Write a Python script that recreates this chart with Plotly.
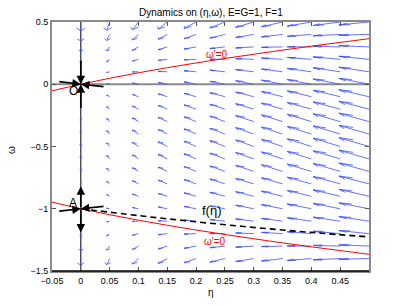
import plotly.graph_objects as go

# ---- data ----
eta_grid = [0.0, 0.05, 0.1, 0.15, 0.2, 0.25, 0.3, 0.35, 0.4, 0.45, 0.5]
omega_grid = [-1.5, -1.4, -1.3, -1.2, -1.1, -1.0, -0.9, -0.8, -0.7, -0.6, -0.5,
              -0.4, -0.3, -0.2, -0.1, 0.0, 0.1, 0.2, 0.3, 0.4, 0.5]
# horizontal rate (eta') per column
eta_rate = [0.0, -0.055, -0.11, -0.165, -0.22, -0.275, -0.33, -0.385, -0.44, -0.495, -0.55]
# vertical rate (omega') = column part + row part
omega_rate_col = [0.0, 0.05, 0.1, 0.15, 0.2, 0.25, 0.3, 0.35, 0.4, 0.45, 0.5]
omega_rate_row = [-0.75, -0.56, -0.39, -0.24, -0.11, 0.0, 0.09, 0.16, 0.21, 0.24, 0.25,
                  0.24, 0.21, 0.16, 0.09, 0.0, -0.11, -0.24, -0.39, -0.56, -0.75]

null_eta = [-0.05, 0.0, 0.05, 0.1, 0.15, 0.2, 0.25, 0.3, 0.35, 0.4, 0.45, 0.5]
null_upper = [-0.053, 0.0, 0.048, 0.092, 0.133, 0.171, 0.207, 0.241, 0.274, 0.306, 0.336, 0.366]
null_lower = [-0.947, -1.0, -1.048, -1.092, -1.133, -1.171, -1.207, -1.241, -1.274, -1.306, -1.336, -1.366]

f_eta = [0.0, 0.1, 0.2, 0.3, 0.4, 0.5]
f_omega = [-1.0, -1.055, -1.105, -1.15, -1.19, -1.226]

# black arrows: (head_eta, head_omega, tail_eta, tail_omega)
arrow_head_eta = [0.0, 0.0, 0.0, 0.0, 0.0, 0.0, 0.0, 0.0]
arrow_head_omega = [0.0, 0.0, 0.0, 0.0, -0.82, -1.19, -1.0, -1.0]
arrow_tail_eta = [0.0, 0.0, -0.04, 0.042, 0.0, 0.0, -0.04, 0.042]
arrow_tail_omega = [0.2, -0.2, 0.022, -0.02, -1.0, -1.0, -1.02, -0.98]

x_ticks = [-0.05, 0, 0.05, 0.1, 0.15, 0.2, 0.25, 0.3, 0.35, 0.4, 0.45]
x_tick_text = ["\u22120.05", "0", "0.05", "0.1", "0.15", "0.2", "0.25", "0.3", "0.35", "0.4", "0.45"]
y_ticks = [-1.5, -1, -0.5, 0, 0.5]
y_tick_text = ["\u22121.5", "\u22121", "\u22120.5", "0", "0.5"]

FONT = "Liberation Sans, Arial, sans-serif"

# ---- quiver (MATLAB style) ----
scale = 0.095
alpha, beta = 0.33, 0.33
qx, qy = [], []
for i, w in enumerate(omega_grid):
    for j, e in enumerate(eta_grid):
        u = eta_rate[j] * scale
        v = (omega_rate_col[j] + omega_rate_row[i]) * scale
        tx, ty = e + u, w + v
        qx += [e, tx, None]
        qy += [w, ty, None]
        qx += [tx - alpha * (u + beta * v), tx, tx - alpha * (u - beta * v), None]
        qy += [ty - alpha * (v - beta * u), ty, ty - alpha * (v + beta * u), None]

fig = go.Figure()

# zero lines
fig.add_trace(go.Scatter(x=[-0.05, 0.5], y=[0, 0], mode="lines",
                         line=dict(color="#8a8a8a", width=2), hoverinfo="skip"))
fig.add_trace(go.Scatter(x=[0, 0], y=[-1.5, 0.5], mode="lines",
                         line=dict(color="black", width=1), hoverinfo="skip"))

fig.add_trace(go.Scatter(x=qx, y=qy, mode="lines",
                         line=dict(color="rgb(60,80,255)", width=0.8), hoverinfo="skip"))

fig.add_trace(go.Scatter(x=null_eta, y=null_upper, mode="lines", line_shape="spline",
                         line=dict(color="red", width=1), hoverinfo="skip"))
fig.add_trace(go.Scatter(x=null_eta, y=null_lower, mode="lines", line_shape="spline",
                         line=dict(color="red", width=1), hoverinfo="skip"))
fig.add_trace(go.Scatter(x=f_eta, y=f_omega, mode="lines", line_shape="spline",
                         line=dict(color="black", width=1.6, dash="6px,4px"), hoverinfo="skip"))

annotations = []
for hx, hy, tx, ty in zip(arrow_head_eta, arrow_head_omega, arrow_tail_eta, arrow_tail_omega):
    annotations.append(dict(x=hx, y=hy, ax=tx, ay=ty, xref="x", yref="y", axref="x", ayref="y",
                            showarrow=True, arrowhead=2, arrowsize=1.0, arrowwidth=1.7,
                            arrowcolor="black", text=""))

annotations += [
    dict(x=0.236, y=0.242, xref="x", yref="y", text="\u03c9'=0", showarrow=False,
         font=dict(color="red", size=10, family=FONT)),
    dict(x=0.233, y=-1.26, xref="x", yref="y", text="\u03c9'=0", showarrow=False,
         font=dict(color="red", size=10, family=FONT)),
    dict(x=0.227, y=-1.016, xref="x", yref="y", text="f(\u03b7)", showarrow=False,
         font=dict(color="black", size=13, family=FONT)),
    dict(x=-0.012, y=-0.056, xref="x", yref="y", text="O", showarrow=False,
         font=dict(color="black", size=12, family=FONT)),
    dict(x=-0.014, y=-0.95, xref="x", yref="y", text="A", showarrow=False,
         font=dict(color="black", size=12, family=FONT)),
    dict(x=0.5, y=1.040, xref="paper", yref="paper", text="Dynamics on (\u03b7,\u03c9), E=G=1, F=1",
         showarrow=False, font=dict(color="black", size=10, family=FONT), yanchor="middle"),
    dict(x=0.5, y=-0.088, xref="paper", yref="paper", text="\u03b7",
         showarrow=False, font=dict(color="black", size=10, family=FONT), yanchor="middle"),
    dict(x=-0.126, y=0.486, xref="paper", yref="paper", text="\u03c9",
         showarrow=False, font=dict(color="black", size=10, family=FONT), textangle=-90,
         xanchor="center", yanchor="middle"),
]

fig.update_layout(
    width=407, height=306,
    margin=dict(l=52, r=38, t=22, b=35),
    paper_bgcolor="white", plot_bgcolor="white",
    showlegend=False,
    font=dict(family=FONT, size=9, color="black"),
    annotations=annotations,
    shapes=[dict(type="line", xref="paper", yref="paper", x0=0, x1=1, y0=0, y1=0,
                 line=dict(color="black", width=1.5), layer="above")],
)
fig.update_xaxes(range=[-0.05, 0.5], tickvals=x_ticks, ticktext=x_tick_text,
                 ticks="inside", ticklen=4, tickcolor="#555", showgrid=False, zeroline=False,
                 showline=True, linecolor="#8a8a8a", linewidth=2, mirror="ticks",
                 tickfont=dict(size=9, family=FONT))
fig.update_yaxes(range=[-1.5, 0.5], tickvals=y_ticks, ticktext=y_tick_text,
                 ticks="inside", ticklen=4, tickcolor="#555", showgrid=False, zeroline=False,
                 showline=True, linecolor="#8a8a8a", linewidth=2, mirror="ticks",
                 tickfont=dict(size=9, family=FONT))

fig.write_html("out.html", config={"displayModeBar": False},
               post_script="document.body.style.margin='0';")
